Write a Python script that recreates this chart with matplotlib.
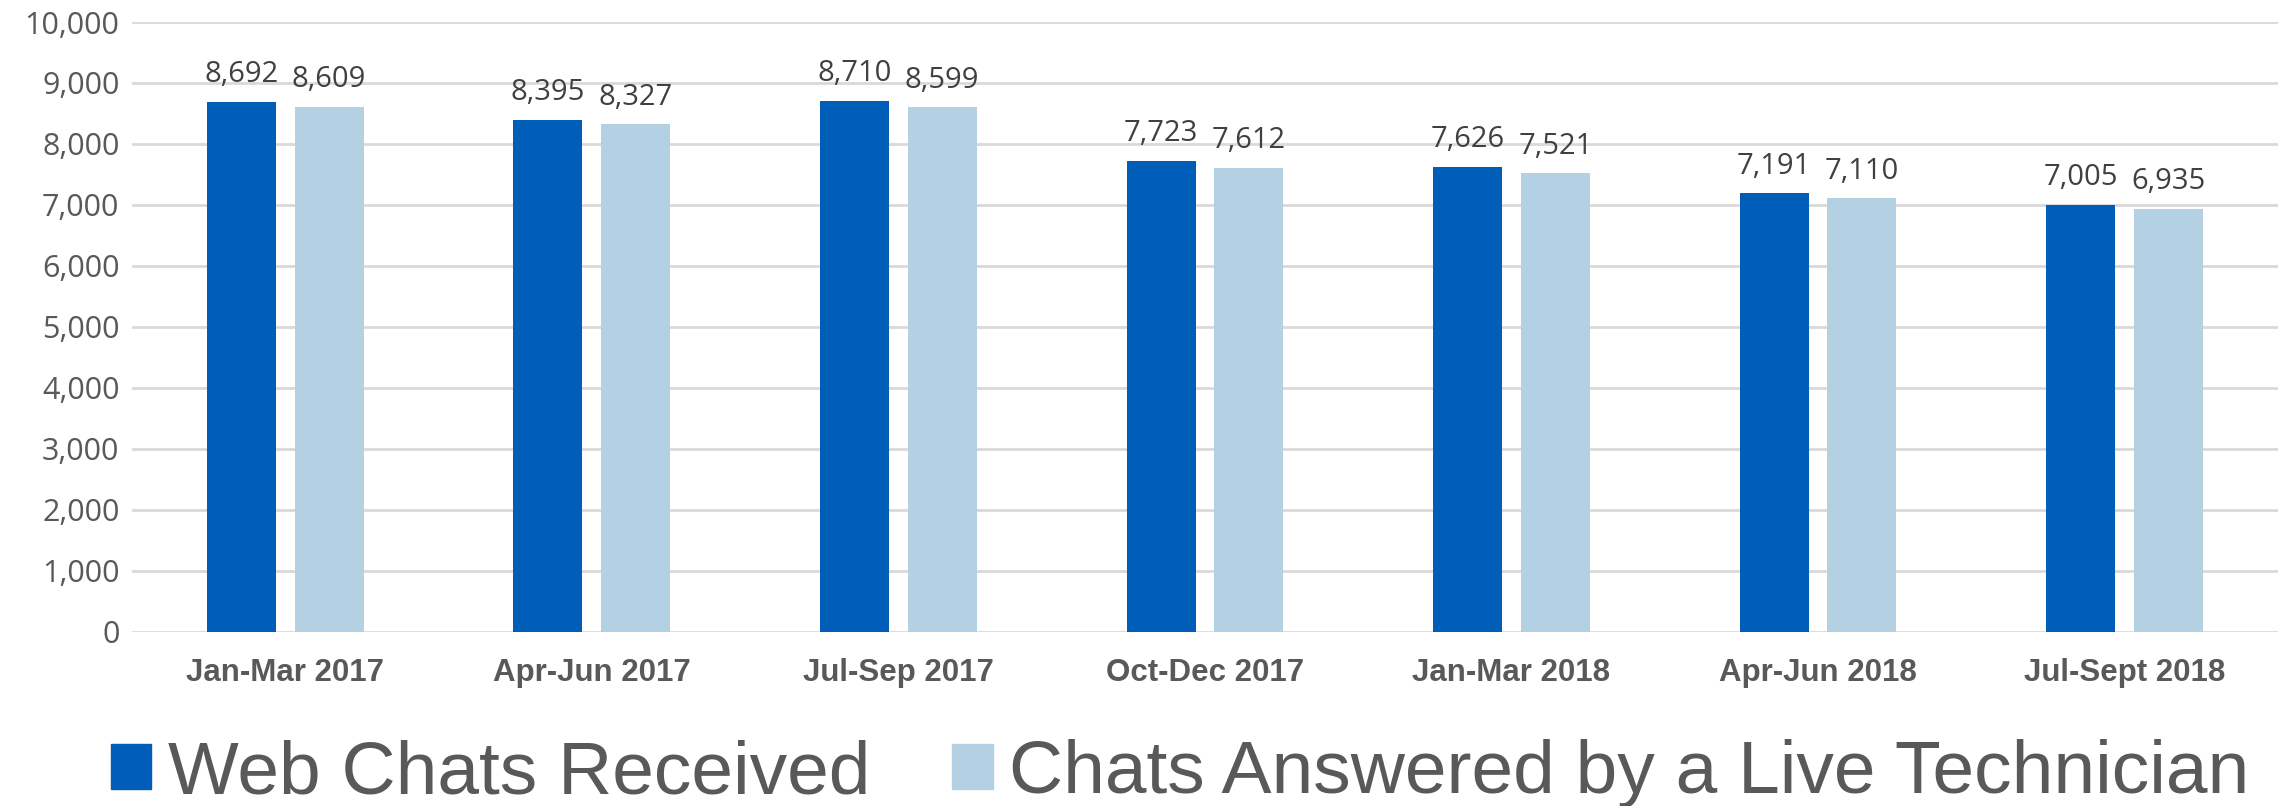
import numpy as np
import matplotlib
matplotlib.use("Agg")
from matplotlib import pyplot as plt
from matplotlib.patches import Patch
from matplotlib.ticker import FuncFormatter

# data
quarters = ["Jan-Mar 2017", "Apr-Jun 2017", "Jul-Sep 2017", "Oct-Dec 2017",
            "Jan-Mar 2018", "Apr-Jun 2018", "Jul-Sept 2018"]
received = [8692, 8395, 8710, 7723, 7626, 7191, 7005]
answered = [8609, 8327, 8599, 7612, 7521, 7110, 6935]
series_names = ["Web Chats Received", "Chats Answered by a Live Technician"]

dark = "#005EB8"
light = "#B3D1E3"

fig = plt.figure(figsize=(22.87, 8.06), dpi=100)
ax = fig.add_axes([0.0577, 0.216, 0.9383, 0.7567])

x = np.arange(len(quarters))
w = 0.225
off = 0.143
b1 = ax.bar(x - off, received, w, color=dark, zorder=3)
b2 = ax.bar(x + off, answered, w, color=light, zorder=3)

for bars in (b1, b2):
    for r in bars:
        ax.annotate(f"{int(r.get_height()):,}", (r.get_x() + r.get_width() / 2, r.get_height()),
                    xytext=(0, 9), textcoords="offset points", ha="center", va="bottom",
                    fontsize=21, color="#404040", family="Open Sans")

ax.set_xlim(-0.5, len(quarters) - 0.5)
ax.set_ylim(0, 10000)
ax.set_yticks(np.arange(0, 10001, 1000))
ax.yaxis.set_major_formatter(FuncFormatter(lambda v, p: f"{int(v):,}"))
ax.yaxis.grid(True, color="#D9D9D9", linewidth=2, zorder=0)
ax.set_xticks(x)
ax.set_xticklabels(quarters, fontsize=22.5, fontweight="bold", color="#595959",
                   family="Liberation Sans")
for lbl in ax.get_yticklabels():
    lbl.set_fontsize(22)
    lbl.set_color("#595959")
    lbl.set_family("Open Sans")
ax.tick_params(axis="both", length=0)
ax.tick_params(axis="x", pad=19)
ax.tick_params(axis="y", pad=9)
for s in ax.spines.values():
    s.set_visible(False)

handles = [Patch(color=dark), Patch(color=light)]
fig.legend(handles, series_names, loc="center", bbox_to_anchor=(0.516, 0.040), ncol=2,
           frameon=False, prop={"family": "Liberation Sans", "size": 54},
           labelcolor="#595959", handlelength=0.54, handleheight=0.54,
           handletextpad=0.22, columnspacing=1.1)

fig.savefig("out.png", dpi=100)
